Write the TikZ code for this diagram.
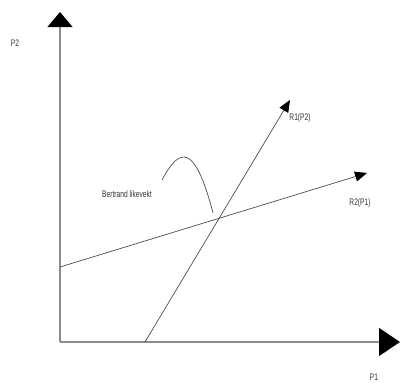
\documentclass[tikz,border=0pt]{standalone}
\usepackage{fontspec}
\setmainfont{Liberation Sans}
\usetikzlibrary{arrows.meta}
\begin{document}
\begin{tikzpicture}[x=1pt,y=-1pt,
  axis/.style={draw=black!45,line width=1.3pt,-{Triangle[length=15pt,width=25pt,color=black]}},
  xaxis/.style={draw=black!45,line width=1.3pt,-{Triangle[length=21pt,width=28pt,color=black]}},
  resp/.style={draw=black!70,line width=0.7pt,-{Triangle[length=12pt,width=10pt,color=black]}},
  lbl/.style={font=\fontsize{9.5}{10}\selectfont,text=black!80,inner sep=0pt,xscale=0.7}]
\useasboundingbox (0,0) rectangle (400,383);
\coordinate (O) at (60,342);
\coordinate (Ytop) at (60,12);
\coordinate (Xend) at (400,342);
\coordinate (R2s) at (60,267);
\coordinate (R2e) at (367,173);
\coordinate (R1s) at (145,342);
\coordinate (R1e) at (290,100);
\coordinate (Cs) at (162,180);
\coordinate (Ce) at (213,213);
\draw[axis] (O) -- (Ytop);
\draw[xaxis] (O) -- (Xend);
\draw[resp] (R2s) -- (R2e);
\draw[resp] (R1s) -- (R1e);
\draw[black!70,line width=0.7pt] (Cs) .. controls (180,146) and (195,144) .. (Ce);
\node[lbl] (p2) at (15,43) {P2};
\node[lbl] (p1) at (374,377) {P1};
\node[lbl] (r2) at (360,203) {R2(P1)};
\node[lbl] (r1) at (300,118) {R1(P2)};
\node[lbl] (bl) at (127,194) {Bertrand likevekt};
\end{tikzpicture}
\end{document}
